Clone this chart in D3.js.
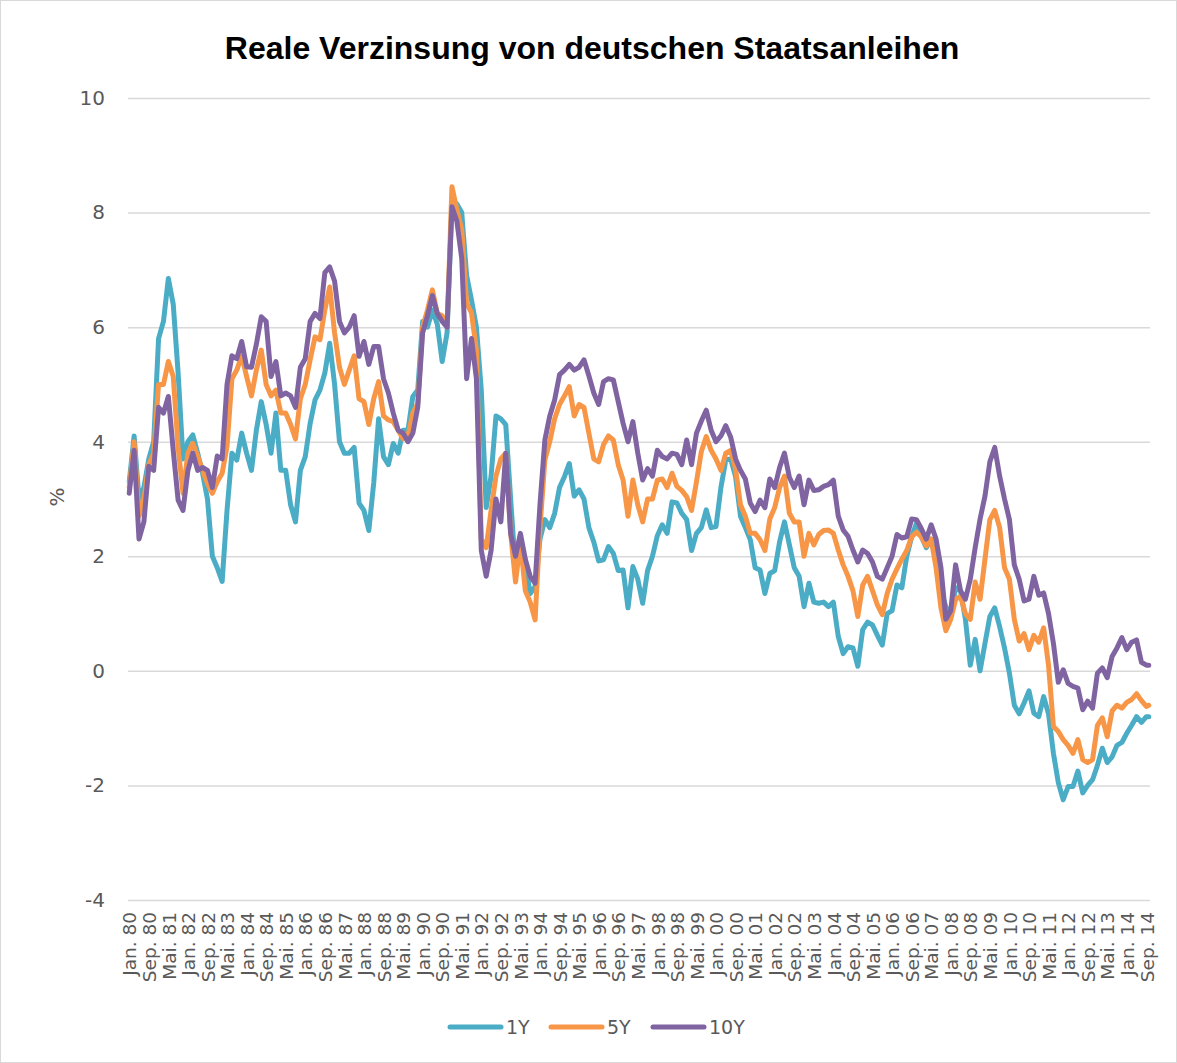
<!DOCTYPE html>
<html>
<head>
    <meta charset="utf-8">
    <title>Reale Verzinsung von deutschen Staatsanleihen</title>
    <script src="https://d3js.org/d3.v7.min.js"></script>
    <style>
        body { margin: 0; background: #fff; }
        svg { display: block; }
        .tick text { fill: #595959; }
    </style>
</head>
<body>
    <svg id="chart" width="1177" height="1063"></svg>

    <script>
        // monthly categories Jan. 1980 - Okt. 2014, one label every 8 months
        var startYear = 1980
        var monthCount = 418
        var monthNames = ["Jan.", "Feb.", "Mär.", "Apr.", "Mai.", "Jun.",
                          "Jul.", "Aug.", "Sep.", "Okt.", "Nov.", "Dez."]
        var labelStep = 8
        var yTicks = [-4, -2, 0, 2, 4, 6, 8, 10]

        // values read every second month (Jan, Mär, Mai, Jul, Sep, Nov), last one Okt. 14
        var y1 = [
            3.3, 4.1, 3.0, 3.2, 3.7, 4.0,
            5.8, 6.1, 6.85, 6.4, 5.2, 3.7,
            4.0, 4.12, 3.8, 3.45, 3.0, 2.0,
            1.8, 1.56, 2.8, 3.8, 3.68, 4.15,
            3.8, 3.5, 4.2, 4.7, 4.3, 3.8,
            4.5, 3.5, 3.5, 2.9, 2.6, 3.5,
            3.74, 4.32, 4.73, 4.9, 5.2, 5.72,
            5.0, 4.0, 3.8, 3.8, 3.9, 2.93,
            2.8, 2.45, 3.28, 4.4, 3.74, 3.6,
            3.97, 3.8, 4.2, 4.2, 4.79, 4.9,
            6.1, 6.0, 6.3, 6.05, 5.4, 5.9,
            8.2, 8.15, 8.0, 6.9, 6.47, 6.0,
            4.9, 2.85, 3.4, 4.45, 4.4, 4.3,
            3.0, 1.76, 2.2, 1.88, 1.35, 1.47,
            2.3, 2.64, 2.5, 2.75, 3.2, 3.39,
            3.62, 3.05, 3.16, 3.0, 2.5, 2.25,
            1.92, 1.94, 2.17, 2.05, 1.75, 1.76,
            1.1, 1.82, 1.6, 1.18, 1.75, 2.0,
            2.36, 2.55, 2.4, 2.95, 2.93, 2.75,
            2.64, 2.1, 2.4, 2.5, 2.81, 2.5,
            2.52, 3.2, 3.68, 3.7, 3.39, 2.7,
            2.5, 2.29, 1.8, 1.76, 1.35, 1.7,
            1.75, 2.25, 2.6, 2.2, 1.8, 1.65,
            1.12, 1.53, 1.2, 1.18, 1.2, 1.12,
            1.2, 0.6, 0.3, 0.42, 0.4, 0.08,
            0.72, 0.85, 0.8, 0.62, 0.45, 1.0,
            1.05, 1.5, 1.45, 2.0, 2.34, 2.58,
            2.34, 2.15, 2.3, 1.9, 1.4, 1.12,
            0.95, 1.45, 1.4, 0.9, 0.1, 0.55,
            0.0, 0.48, 0.95, 1.1, 0.77, 0.4,
            -0.04, -0.6, -0.75, -0.56, -0.35, -0.74,
            -0.8, -0.45, -0.75, -1.44, -1.95, -2.25,
            -2.02, -2.02, -1.75, -2.13, -2.0, -1.9,
            -1.65, -1.35, -1.6, -1.5, -1.3, -1.25,
            -1.09, -0.95, -0.8, -0.9, -0.8, -0.8
        ]
        var y5 = [
            3.2, 4.0, 2.7, 3.0, 3.6, 3.8,
            5.0, 5.0, 5.4, 5.14, 3.9, 3.1,
            3.8, 3.97, 3.75, 3.5, 3.27, 3.1,
            3.3, 3.45, 3.92, 5.1, 5.25, 5.5,
            5.14, 4.8, 5.25, 5.6, 5.0, 4.8,
            4.9, 4.5, 4.5, 4.3, 4.05, 4.75,
            5.0, 5.43, 5.83, 5.78, 6.3, 6.7,
            5.9, 5.3, 5.0, 5.25, 5.5, 4.75,
            4.7, 4.3, 4.75, 5.05, 4.45, 4.38,
            4.35, 4.2, 4.05, 4.1, 4.5, 4.67,
            6.0, 6.3, 6.65, 6.24, 6.2, 6.0,
            8.45, 8.05, 7.7, 6.42, 6.25, 5.6,
            2.3, 2.15, 2.8, 3.4, 3.7, 3.8,
            2.4, 1.55, 2.25, 1.4, 1.2, 0.89,
            2.5, 3.68, 4.0, 4.4, 4.65, 4.8,
            4.96, 4.45, 4.65, 4.6, 4.15, 3.7,
            3.65, 3.95, 4.1, 4.03, 3.6, 3.33,
            2.7, 3.33, 2.9, 2.6, 3.0, 3.0,
            3.33, 3.35, 3.2, 3.45, 3.22, 3.15,
            3.04, 2.8, 3.3, 3.83, 4.09, 3.85,
            3.7, 3.5, 3.8, 3.85, 3.52, 2.9,
            2.7, 2.4, 2.4, 2.29, 2.1, 2.65,
            2.85, 3.2, 3.4, 2.75, 2.6, 2.6,
            2.0, 2.4, 2.2, 2.38, 2.45, 2.46,
            2.4, 2.11, 1.85, 1.65, 1.4, 0.95,
            1.5, 1.65, 1.4, 1.15, 0.98, 1.35,
            1.6, 1.78, 1.95, 2.1, 2.34, 2.42,
            2.34, 2.18, 2.3, 1.8, 1.1, 0.7,
            0.9, 1.25, 1.3, 1.0, 0.9, 1.55,
            1.25, 1.95, 2.64, 2.8, 2.5, 1.8,
            1.6, 0.9, 0.52, 0.65, 0.37, 0.62,
            0.5, 0.75, 0.1, -0.97, -1.06, -1.2,
            -1.3, -1.44, -1.2, -1.55, -1.6, -1.55,
            -0.95, -0.82, -1.15, -0.7, -0.6, -0.65,
            -0.55, -0.5, -0.4, -0.52, -0.62, -0.6
        ]
        var y10 = [
            3.1, 3.85, 2.3, 2.6, 3.57, 3.5,
            4.6, 4.5, 4.79, 3.85, 2.98, 2.8,
            3.5, 3.8, 3.5, 3.55, 3.5, 3.2,
            3.75, 3.7, 5.0, 5.5, 5.45, 5.75,
            5.31, 5.3, 5.7, 6.18, 6.1, 5.14,
            5.4, 4.8, 4.85, 4.8, 4.6, 5.3,
            5.45, 6.1, 6.24, 6.15, 6.95, 7.05,
            6.8, 6.1, 5.9, 6.0, 6.2, 5.49,
            5.75, 5.35, 5.66, 5.66, 5.1, 4.85,
            4.5, 4.2, 4.15, 4.0, 4.15, 4.6,
            5.9, 6.2, 6.55, 6.24, 6.1, 6.0,
            8.1, 7.85, 7.2, 5.1, 5.8, 5.1,
            2.1, 1.65, 2.1, 3.0, 2.6, 3.8,
            2.4, 2.0, 2.4, 1.95, 1.65, 1.53,
            2.9, 4.03, 4.45, 4.73, 5.17, 5.25,
            5.35, 5.25, 5.3, 5.43, 5.15, 4.85,
            4.65, 5.05, 5.1, 5.08, 4.7, 4.32,
            4.0, 4.35, 3.8, 3.33, 3.53, 3.4,
            3.85, 3.74, 3.7, 3.8, 3.78, 3.6,
            4.03, 3.6, 4.15, 4.36, 4.55, 4.2,
            4.0, 4.1, 4.28, 4.08, 3.7, 3.5,
            3.35, 2.93, 2.78, 2.98, 2.85, 3.35,
            3.2, 3.55, 3.8, 3.38, 3.2, 3.4,
            2.9, 3.33, 3.15, 3.16, 3.22, 3.25,
            3.33, 2.7, 2.46, 2.35, 2.11, 1.9,
            2.11, 2.05, 1.9, 1.65, 1.6, 1.8,
            2.0, 2.38, 2.32, 2.34, 2.65, 2.64,
            2.48, 2.3, 2.55, 2.3, 1.8, 0.9,
            1.05, 1.85, 1.4, 1.25, 1.6, 2.15,
            2.65, 3.05, 3.65, 3.9, 3.4, 3.0,
            2.64, 1.85, 1.6, 1.22, 1.25, 1.65,
            1.32, 1.36, 1.0, 0.48, -0.2, 0.02,
            -0.22, -0.27, -0.3, -0.68, -0.53, -0.65,
            -0.04, 0.05, -0.12, 0.25, 0.4, 0.58,
            0.37, 0.5, 0.54, 0.15, 0.1, 0.1
        ]

        var seriesNames = ["1Y", "5Y", "10Y"]
        var seriesColors = ["#4bacc6", "#f79646", "#8064a2"]
        var seriesValues = [y1, y5, y10]

        var categories = d3.range(monthCount).map(i =>
            monthNames[i % 12] + " " + String((startYear + Math.floor(i / 12)) % 100).padStart(2, "0"))
        var sampleIdx = d3.range(0, monthCount - 1, 2).concat([monthCount - 1])

        var svg = d3.select("#chart")
        var wid = +svg.attr("width"), hei = +svg.attr("height")
        var plotLeft = 128, plotRight = 1150, plotTop = 98, plotBottom = 900

        svg.append("rect")
            .attr("x", 0.5).attr("y", 0.5)
            .attr("width", wid - 1).attr("height", hei - 1)
            .attr("fill", "#fff").attr("stroke", "#d9d9d9")

        var x = d3.scalePoint().domain(d3.range(monthCount)).range([plotLeft, plotRight]).padding(0.5)
        var y = d3.scaleLinear().domain([-4, 10]).range([plotBottom, plotTop])

        // y axis with gridlines
        var yAxis = svg.append("g")
            .attr("transform", "translate(" + plotLeft + ",0)")
            .call(d3.axisLeft(y)
                .tickValues(yTicks)
                .tickFormat(d => String(d))
                .tickSize(-(plotRight - plotLeft))
                .tickPadding(23))
        yAxis.select(".domain").remove()
        yAxis.selectAll(".tick line").attr("stroke", "#d9d9d9").attr("stroke-width", 1.5)
        yAxis.selectAll(".tick text")
            .style("font-family", "'DejaVu Sans', sans-serif")
            .style("font-size", "20px")

        // x axis labels, rotated
        var xAxis = svg.append("g")
            .attr("transform", "translate(0," + plotBottom + ")")
            .call(d3.axisBottom(x)
                .tickValues(d3.range(0, monthCount, labelStep))
                .tickFormat(i => categories[i])
                .tickSize(0))
        xAxis.select(".domain").remove()
        xAxis.selectAll(".tick text")
            .attr("transform", "rotate(-90)")
            .attr("x", -12).attr("y", 0).attr("dy", "0.36em")
            .style("text-anchor", "end")
            .style("font-family", "'DejaVu Sans', sans-serif")
            .style("font-size", "18.5px")

        // lines
        var line = d3.line()
            .x(d => x(d[0]))
            .y(d => y(d[1]))

        seriesValues.forEach(function (vals, k) {
            svg.append("path")
                .datum(sampleIdx.map((m, i) => [m, vals[i]]))
                .attr("fill", "none")
                .attr("stroke", seriesColors[k])
                .attr("stroke-width", 5)
                .attr("stroke-linejoin", "round")
                .attr("stroke-linecap", "round")
                .attr("d", line)
        })

        // title and axis title
        svg.append("text")
            .attr("x", 592).attr("y", 59)
            .attr("text-anchor", "middle")
            .style("font-family", "'Liberation Sans', Arial, sans-serif")
            .style("font-weight", "bold")
            .style("font-size", "32px")
            .attr("fill", "#000")
            .text("Reale Verzinsung von deutschen Staatsanleihen")

        svg.append("text")
            .attr("transform", "translate(64,497) rotate(-90)")
            .attr("text-anchor", "middle")
            .style("font-family", "'DejaVu Sans', sans-serif")
            .style("font-size", "20px")
            .attr("fill", "#595959")
            .text("%")

        // legend
        var legendX = [448, 549, 651]
        var legend = svg.append("g").attr("transform", "translate(0,1027)")
        seriesNames.forEach(function (name, k) {
            legend.append("line")
                .attr("x1", legendX[k] + 2).attr("x2", legendX[k] + 53)
                .attr("y1", 0).attr("y2", 0)
                .attr("stroke", seriesColors[k])
                .attr("stroke-width", 5)
                .attr("stroke-linecap", "round")
            legend.append("text")
                .attr("x", legendX[k] + 58).attr("y", 0).attr("dy", "0.36em")
                .style("font-family", "'DejaVu Sans', sans-serif")
                .style("font-size", "19px")
                .attr("fill", "#595959")
                .text(name)
        })
    </script>
</body>
</html>
